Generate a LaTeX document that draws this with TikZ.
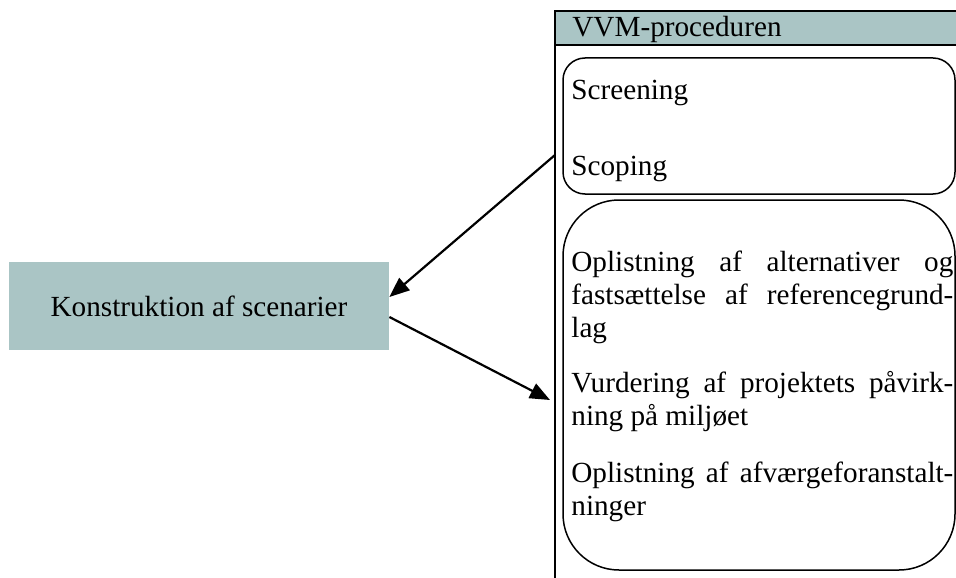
\documentclass[tikz,border=0pt]{standalone}
\usepackage{fontspec}
\setmainfont{Liberation Serif}
\usetikzlibrary{arrows.meta}
\definecolor{vvmgreen}{RGB}{170,197,197}

\begin{document}
\begin{tikzpicture}[x=0.5pt,y=-0.5pt,>={Triangle[length=10pt,width=8pt]},
	font=\fontsize{14.6}{16.6}\selectfont,
	txt node/.style={anchor=base west,inner sep=0pt},
	par node/.style={anchor=base west,inner sep=0pt,text width=191pt,align=justify,
		execute at begin node={\hyphenpenalty=10000\tolerance=9999}},
	scen node/.style={fill=vvmgreen,minimum width=190pt,minimum height=44pt,inner sep=0pt},
	round box/.style={draw,line width=0.75pt}]
	
	\clip (0,0) rectangle (956,577);
	
	% the VVM frame
	\draw[line width=1pt,fill=vvmgreen] (555,11) rectangle (962,45);
	\draw[line width=1pt] (555,45) -- (555,585);
	\node[txt node] (vvm) at (572,37) {VVM-proceduren};
	
	\draw[round box,rounded corners=11pt] (563,58) rectangle (955,194);
	\draw[round box,rounded corners=28pt] (563,200) rectangle (955,570);
	
	\node[txt node] (screen) at (571,100) {Screening};
	\node[txt node] (scope)  at (571,176) {Scoping};
	\node[par node] (alt)  at (571,271) {Oplistning~af~alternativer~og\linebreak fastsættelse~af~referencegrund-\linebreak lag};
	\node[par node] (vurd) at (571,392) {Vurdering~af~projektets~påvirk-\linebreak ning på miljøet};
	\node[par node] (afv)  at (571,482) {Oplistning~af~afværgeforanstalt-\linebreak ninger};
	
	\node[scen node] (scen) at (199,306) {Konstruktion af scenarier};
	
	\coordinate (out) at (555,155);
	\coordinate (in)  at (550,400);
	
	\draw[->,line width=1.1pt] (out) -- ([yshift=4.5pt]scen.east);
	\draw[->,line width=1.1pt] ([yshift=-5.5pt]scen.east) -- (in);
\end{tikzpicture}
\end{document}
